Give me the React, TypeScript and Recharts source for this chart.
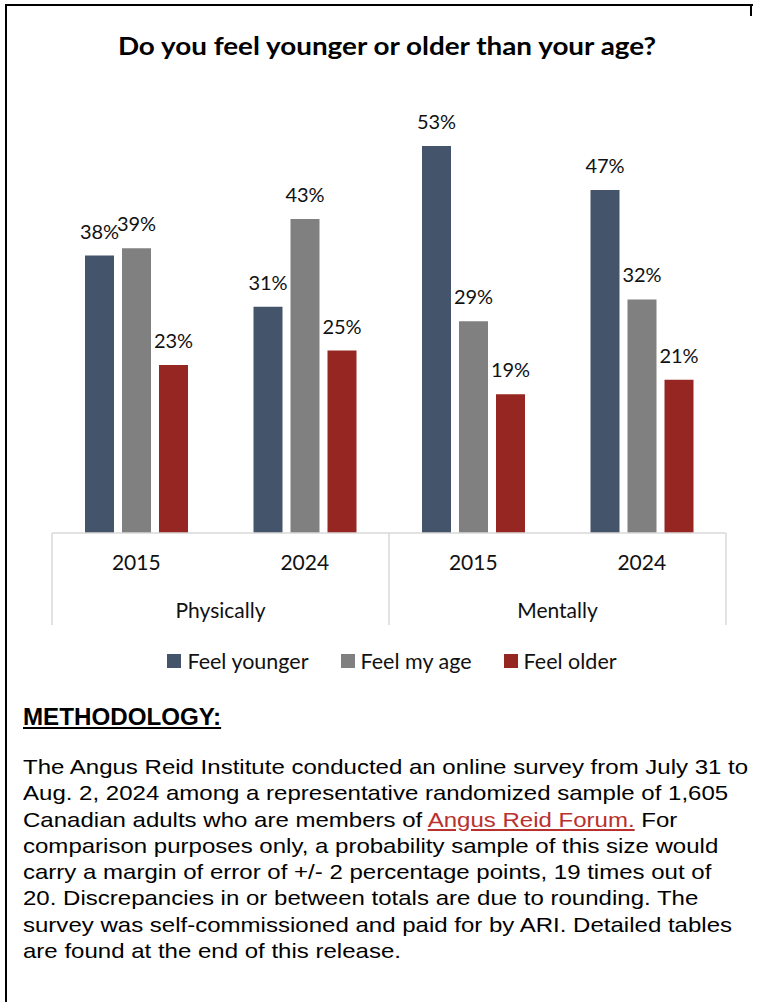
import React from 'react'
import { BarChart, Bar, XAxis, YAxis, Legend, LabelList } from 'recharts'

const years = ['2015', '2024', '2015', '2024']
const groups = ['Physically', 'Physically', 'Mentally', 'Mentally']
const feelYounger = [38, 31, 53, 47]
const feelMyAge = [39, 43, 29, 32]
const feelOlder = [23, 25, 19, 21]

const seriesNames = ['Feel younger', 'Feel my age', 'Feel older']
const seriesColors = ['#44546A', '#808080', '#952622']

const data = years.map((year, i) => ({
  key: `${groups[i]}-${year}`,
  year,
  group: groups[i],
  younger: feelYounger[i],
  same: feelMyAge[i],
  older: feelOlder[i],
}))

const CHART_W = 758
const MARGIN = { top: 95, right: 32, left: 52, bottom: 57 }
const BAND = (CHART_W - MARGIN.left - MARGIN.right) / years.length

const chartFont = 'Lato, "Open Sans", sans-serif'
const bodyFont = '"Liberation Sans", Arial, sans-serif'

const CategoryTick = (props: any) => {
  const { x, y, payload } = props
  const i = payload.index
  const row = data[i]
  return (
    <g>
      <text x={x} y={y + 37} textAnchor="middle" fontSize={21} fill="#111" fontFamily={chartFont}>
        {row.year}
      </text>
      {i % 2 === 0 && (
        <>
          <line x1={x - BAND / 2} x2={x - BAND / 2} y1={y} y2={y + 92} stroke="#d9d9d9" strokeWidth={1.5} />
          <text x={x + BAND / 2} y={y + 85} textAnchor="middle" fontSize={21} fill="#111" fontFamily={chartFont}>
            {row.group}
          </text>
        </>
      )}
      {i === data.length - 1 && (
        <line x1={x + BAND / 2} x2={x + BAND / 2} y1={y} y2={y + 92} stroke="#d9d9d9" strokeWidth={1.5} />
      )}
    </g>
  )
}

const LegendContent = () => (
  <div style={{ display: 'flex', justifyContent: 'center', fontFamily: chartFont, fontSize: 21.5, color: '#111' }}>
    {seriesNames.map((name, i) => (
      <div key={name} style={{ display: 'flex', alignItems: 'center', marginRight: i < seriesNames.length - 1 ? 32 : 0 }}>
        <span style={{ display: 'inline-block', width: 14, height: 14, background: seriesColors[i], marginRight: 6 }} />
        <span>{name}</span>
      </div>
    ))}
  </div>
)

const pct = (v: any) => `${v}%`
const labelStyle = { fontSize: 20, fill: '#111', fontFamily: chartFont }

export default function App() {
  return (
    <div style={{ position: 'absolute', left: 0, top: 0, width: 758, height: 1002, background: '#fff', overflow: 'hidden' }}>
      {/* frame */}
      <div style={{ position: 'absolute', left: 5, top: 4, width: 2, height: 998, background: '#000' }} />
      <div style={{ position: 'absolute', left: 5, top: 4, width: 748, height: 2, background: '#000' }} />
      <div style={{ position: 'absolute', left: 750, top: 4, width: 2, height: 12, background: '#000' }} />

      <div style={{ position: 'absolute', top: 31, left: 11, width: 752, textAlign: 'center' }}>
        <span
          style={{
            display: 'inline-block',
            transform: 'scaleX(1.16)',
            fontFamily: chartFont,
            fontWeight: 700,
            fontSize: 24,
            color: '#000',
          }}
        >
          Do you feel younger or older than your age?
        </span>
      </div>

      <div style={{ position: 'absolute', left: 0, top: 0 }}>
        <BarChart width={CHART_W} height={690} data={data} margin={MARGIN} barSize={29} barGap={8}>
          <YAxis hide domain={[0, 60]} />
          <XAxis
            dataKey="key"
            height={100}
            tickLine={false}
            tickSize={0}
            tickMargin={0}
            axisLine={{ stroke: '#d9d9d9', strokeWidth: 1.5 }}
            tick={<CategoryTick />}
            interval={0}
          />
          <Legend
            verticalAlign="middle"
            layout="horizontal"
            content={<LegendContent />}
            wrapperStyle={{ top: 648, left: 0, width: 784 }}
          />
          <Bar dataKey="younger" name={seriesNames[0]} fill={seriesColors[0]} isAnimationActive={false}>
            <LabelList dataKey="younger" position="top" offset={17} formatter={pct} style={labelStyle} />
          </Bar>
          <Bar dataKey="same" name={seriesNames[1]} fill={seriesColors[1]} isAnimationActive={false}>
            <LabelList dataKey="same" position="top" offset={17} formatter={pct} style={labelStyle} />
          </Bar>
          <Bar dataKey="older" name={seriesNames[2]} fill={seriesColors[2]} isAnimationActive={false}>
            <LabelList dataKey="older" position="top" offset={17} formatter={pct} style={labelStyle} />
          </Bar>
        </BarChart>
      </div>

      <div style={{ position: 'absolute', left: 23, top: 702, fontFamily: bodyFont, color: '#000' }}>
        <div
          style={{
            display: 'inline-block',
            transformOrigin: 'left center',
            transform: 'scaleX(1.05)',
            fontSize: 23,
            fontWeight: 700,
            textDecoration: 'underline',
            lineHeight: '30px',
          }}
        >
          METHODOLOGY:
        </div>
        <div
          style={{
            marginTop: 22,
            fontSize: 21,
            lineHeight: '26.3px',
            whiteSpace: 'nowrap',
            transformOrigin: 'left top',
            transform: 'scaleX(1.144)',
          }}
        >
          The Angus Reid Institute conducted an online survey from July 31 to<br />
          Aug. 2, 2024 among a representative randomized sample of 1,605<br />
          Canadian adults who are members of{' '}
          <span style={{ color: '#B8312F', textDecoration: 'underline' }}>Angus Reid Forum.</span> For<br />
          comparison purposes only, a probability sample of this size would<br />
          carry a margin of error of +/- 2 percentage points, 19 times out of<br />
          20. Discrepancies in or between totals are due to rounding. The<br />
          survey was self-commissioned and paid for by ARI. Detailed tables<br />
          are found at the end of this release.
        </div>
      </div>
    </div>
  )
}
